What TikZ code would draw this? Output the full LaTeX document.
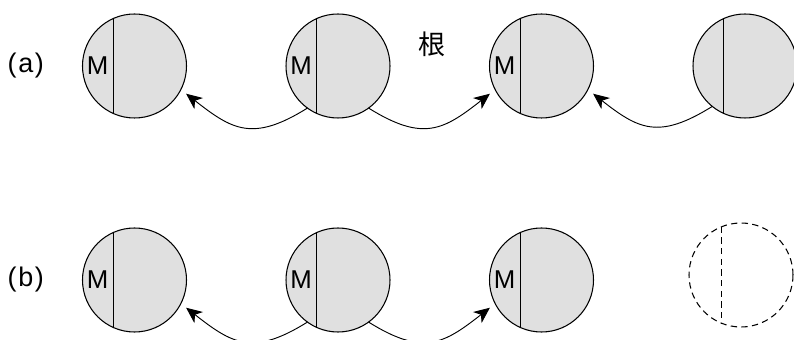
\documentclass[tikz,border=0pt]{standalone}
\usepackage{fontspec}
\setsansfont{Liberation Sans}
\newfontfamily\cjk{Noto Sans CJK JP}
\usetikzlibrary{positioning,arrows.meta,calc}

\begin{document}
\begin{tikzpicture}[
    x=0.3mm, y=0.3mm,
    font=\sffamily,
    >={Stealth[length=4.8mm,width=4.2mm,inset=1.4mm]},
    node distance=33mm and 29.85mm,
    cell/.style={
        circle,
        draw=black,
        fill=black!12,
        line width=0.9pt,
        minimum size=31.2mm,
        inner sep=0pt,
        outer sep=0pt
    },
    ghost/.style={
        cell,
        fill=none,
        dash pattern=on 1.9mm off 1.3mm
    },
    split/.style={line width=1pt},
    link/.style={->, line width=0.8pt, shorten >=2mm, looseness=1.3},
    rowlabel/.style={font=\sffamily\fontsize{23}{26}\selectfont, inner sep=0pt},
    mlabel/.style={font=\sffamily\fontsize{22}{24}\selectfont, inner sep=0pt},
    rootlabel/.style={font=\cjk\fontsize{23}{26}\selectfont, inner sep=0pt}
]
\useasboundingbox (0,0) rectangle (794,340);

% Row (a)
\node[cell] (a1) at (134.5,274) {};
\node[cell, right=of a1] (a2) {};
\node[cell, right=of a2] (a3) {};
\node[cell, right=of a3] (a4) {};
\node[rowlabel, left=11.5mm of a1] (la) {(\kern0.5mm a\kern0.5mm)};
\node[rootlabel] (root) at (432,296) {根};

% Row (b)
\node[cell, below=of a1] (b1) {};
\node[cell, right=of b1] (b2) {};
\node[cell, right=of b2] (b3) {};
\node[ghost, right=of b3, xshift=-1.2mm, yshift=1.5mm] (b4) {};
\node[rowlabel, left=11.5mm of b1] (lb) {(\kern0.5mm b\kern0.5mm)};

% Split lines and M marks
\foreach \c in {a1,a2,a3,a4,b1,b2,b3}
    \draw[split] (\c.114) -- (\c.246);
\draw[split, dash pattern=on 1.9mm off 1.3mm] (b4.112) -- (b4.248);
\foreach \c in {a1,a2,a3,b1,b2,b3}
    \node[mlabel] (m\c) at ($(\c.center)+(-37,0)$) {M};

% Connectors
\draw[link] (a2.234) to[out=212, in=-38] (a1.-27);
\draw[link] (a2.306) to[out=-32, in=218] (a3.207);
\draw[link] (a4.231) to[out=212, in=-38] (a3.-27);
\draw[link] (b2.234) to[out=212, in=-38] (b1.-27);
\draw[link] (b2.306) to[out=-32, in=218] (b3.207);

\end{tikzpicture}
\end{document}
